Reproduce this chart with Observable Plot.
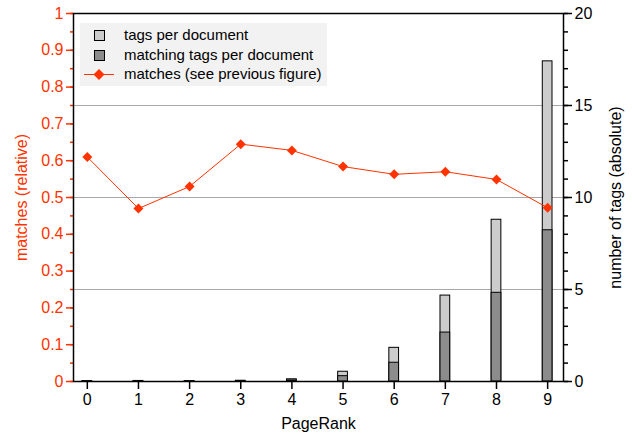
<!DOCTYPE html>
<html>
<head>
<meta charset="utf-8">
<script src="https://cdn.jsdelivr.net/npm/d3@7"></script>
<script src="https://cdn.jsdelivr.net/npm/@observablehq/plot@0.6"></script>
<style>
  html, body { margin: 0; padding: 0; background: #fff; }
  #wrap { position: relative; width: 632px; height: 441px; font-family: "Liberation Sans", Arial, Helvetica, sans-serif; }
  #legend { position: absolute; left: 80px; top: 23px; width: 247px; height: 63px; background: #f2f2f2; font-size: 15px; color: #000; }
  #legend .row { position: absolute; left: 0; height: 20px; width: 247px; }
  #legend .row span { position: absolute; left: 44px; top: 1px; white-space: nowrap; }
  #legend svg { position: absolute; left: 0; top: 0; }
</style>
</head>
<body>
<div id="wrap">
  <div id="chart"></div>
  <div id="legend"></div>
</div>
<script>
// ---- data ----
const pageRank = [0, 1, 2, 3, 4, 5, 6, 7, 8, 9];
const matchesRelative = [0.61, 0.47, 0.53, 0.645, 0.628, 0.584, 0.563, 0.57, 0.549, 0.472];
const tagsPerDocument = [0.02, 0.03, 0.02, 0.04, 0.12, 0.53, 1.83, 4.67, 8.79, 17.4];
const matchingTagsPerDocument = [0.01, 0.01, 0.01, 0.02, 0.06, 0.29, 1.02, 2.66, 4.82, 8.22];
const leftTicks = [0, 0.1, 0.2, 0.3, 0.4, 0.5, 0.6, 0.7, 0.8, 0.9, 1];
const rightTicks = [0, 5, 10, 15, 20];
const gridValues = [5, 10, 15];
const legendLabels = ["tags per document", "matching tags per document", "matches (see previous figure)"];

const RED = "#ff3300";
const RIGHT_MAX = 20;
const HALF_BAR = 0.095;

const rows = pageRank.map((r, i) => ({
  rank: r,
  matches: matchesRelative[i],
  tags: tagsPerDocument[i],
  matching: matchingTagsPerDocument[i]
}));

const leftMinor = d3.range(0, 21).map(i => i / 20);
const rightMinor = d3.range(0, 21).map(i => i / RIGHT_MAX);
const noText = () => "";

const chart = Plot.plot({
  width: 632,
  height: 441,
  marginLeft: 73,
  marginRight: 69,
  marginTop: 13,
  marginBottom: 60,
  style: { fontFamily: "Liberation Sans, Arial, Helvetica, sans-serif", fontSize: "16px", background: "white" },
  x: { type: "linear", domain: [-0.27, 9.31] },
  y: { domain: [0, 1] },
  marks: [
    Plot.ruleY(gridValues, { y: d => d / RIGHT_MAX, stroke: "#a8a8a8", strokeWidth: 1.2 }),
    Plot.rectY(rows, { x1: d => d.rank - HALF_BAR, x2: d => d.rank + HALF_BAR, y: d => d.tags / RIGHT_MAX, fill: "#cccccc", stroke: "black", strokeWidth: 1 }),
    Plot.rectY(rows, { x1: d => d.rank - HALF_BAR, x2: d => d.rank + HALF_BAR, y: d => d.matching / RIGHT_MAX, fill: "#8c8c8c", stroke: "black", strokeWidth: 1 }),
    Plot.line(rows, { x: "rank", y: "matches", stroke: RED, strokeWidth: 1 }),
    Plot.dot(rows, { x: "rank", y: "matches", symbol: "diamond2", r: 4.5, fill: RED, stroke: "none" }),
    // left axis (red)
    Plot.axisY({ ticks: leftMinor, anchor: "left", tickSize: 3, tickFormat: noText, label: null, color: RED, strokeWidth: 1.5 }),
    Plot.axisY({ ticks: leftTicks, anchor: "left", tickSize: 7, tickPadding: 3, tickFormat: d => String(d), color: RED, strokeWidth: 1.5,
      label: "matches (relative)", labelAnchor: "center", labelArrow: "none", labelOffset: 58 }),
    // right axis (black)
    Plot.axisY({ ticks: rightMinor, anchor: "right", tickSize: 4, tickFormat: noText, label: null, strokeWidth: 1.5 }),
    Plot.axisY({ ticks: rightTicks.map(d => d / RIGHT_MAX), anchor: "right", tickSize: 8, tickPadding: 3, tickFormat: d => String(Math.round(d * RIGHT_MAX)), strokeWidth: 1.5,
      label: "number of tags (absolute)", labelAnchor: "center", labelArrow: "none", labelOffset: 57 }),
    // x axis
    Plot.axisX({ ticks: pageRank, tickSize: 8, tickPadding: 4, tickFormat: d => String(d), strokeWidth: 1.5,
      label: "PageRank", labelAnchor: "center", labelArrow: "none", labelOffset: 47 }),
    Plot.frame({ stroke: "black", strokeWidth: 1.5 })
  ]
});
document.getElementById("chart").appendChild(chart);

// ---- legend ----
const legend = document.getElementById("legend");
const swatches = [
  `<svg width="40" height="20"><rect x="14.5" y="5.5" width="10" height="10" fill="#cccccc" stroke="black"/></svg>`,
  `<svg width="40" height="20"><rect x="14.5" y="5.5" width="10" height="10" fill="#8c8c8c" stroke="black"/></svg>`,
  `<svg width="40" height="20"><line x1="4" x2="34" y1="10.5" y2="10.5" stroke="${RED}"/><path d="M19,5 L24.5,10.5 L19,16 L13.5,10.5Z" fill="${RED}"/></svg>`
];
legendLabels.forEach((lab, i) => {
  const row = document.createElement("div");
  row.className = "row";
  row.style.top = (2 + i * 19.5) + "px";
  row.innerHTML = swatches[i] + `<span>${lab}</span>`;
  legend.appendChild(row);
});
</script>
</body>
</html>
